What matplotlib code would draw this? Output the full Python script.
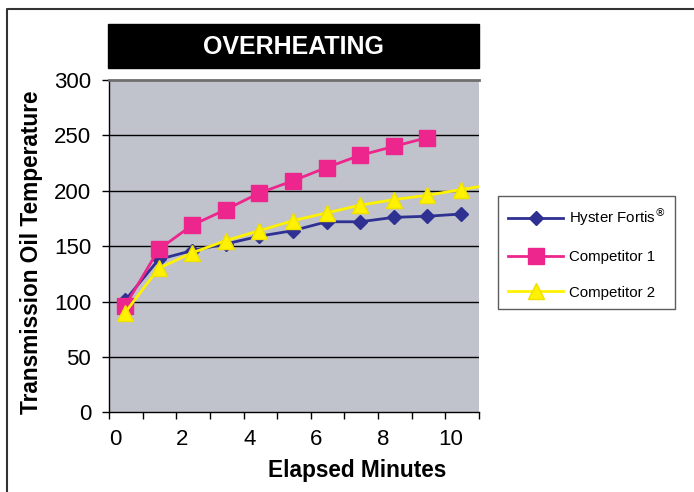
import matplotlib.pyplot as plt
from matplotlib.patches import Rectangle
from matplotlib.lines import Line2D

# data (one reading per elapsed minute)
minutes = [0, 1, 2, 3, 4, 5, 6, 7, 8, 9, 10, 11]
hyster = [101, 138, 146, 152, 159, 164, 172, 172, 176, 177, 179]
comp1 = [96, 147, 169, 183, 198, 209, 221, 232, 240, 248]
comp2 = [90, 130, 144, 155, 164, 173, 180, 187, 192, 196, 201, 206]

x_ticks = [0, 2, 4, 6, 8, 10]
y_ticks = [0, 50, 100, 150, 200, 250, 300]

navy = '#2e3192'
pink = '#ec268c'
yellow = '#fff200'

plt.rcParams['font.family'] = ['Liberation Sans', 'DejaVu Sans']

fig = plt.figure(figsize=(6.94, 4.92), dpi=100)
ax = fig.add_axes([109.3 / 694, 1 - 412.3 / 492, 369.4 / 694, 332.3 / 492])
ax.set_facecolor('#c0c3cb')

# points sit in the middle of each minute slot
off = 0.3
ax.plot([m + off for m in minutes[:len(hyster)]], hyster, color=navy, lw=2,
        marker='D', ms=7, mec=navy, label='Hyster Fortis$^{®}$', zorder=3)
ax.plot([m + off for m in minutes[:len(comp1)]], comp1, color=pink, lw=2,
        marker='s', ms=12, mec=pink, label='Competitor 1', zorder=4)
ax.plot([m + off for m in minutes[:len(comp2)]], comp2, color=yellow, lw=2,
        marker='^', ms=11, mec='#f0e000', label='Competitor 2', zorder=5)

ax.set_xlim(-0.17, 10.82)
ax.set_ylim(0, 300)

ax.set_yticks(y_ticks)
for v in y_ticks[1:-1]:
    ax.axhline(v, color='black', lw=1, zorder=1)

ax.set_xticks(x_ticks)
ax.set_xticks([-0.17 + m for m in minutes], minor=True)
ax.tick_params(axis='x', which='major', length=0, pad=12, labelsize=16)
ax.tick_params(axis='x', which='minor', length=5, width=1, direction='out')
ax.tick_params(axis='y', length=5, width=1, pad=8, labelsize=16)

ax.spines['right'].set_visible(False)
ax.spines['top'].set_color('#6e6e6e')
ax.spines['top'].set_linewidth(2)
ax.spines['left'].set_linewidth(1)
ax.spines['bottom'].set_linewidth(1)

fig.text(32 / 694, 1 - 252 / 492, 'Transmission Oil Temperature', rotation=90,
         ha='center', va='center', fontsize=16.3, fontweight='bold')
fig.text(357 / 694, 1 - 471 / 492, 'Elapsed Minutes', ha='center', va='center',
         fontsize=16.3, fontweight='bold')

# black title bar
fig.add_artist(Rectangle((107.7 / 694, 1 - 67.7 / 492), 371.3 / 694, 43.7 / 492,
                         transform=fig.transFigure, color='black'))
fig.text(293.5 / 694, 1 - 47 / 492, 'OVERHEATING', ha='center', va='center',
         color='white', fontsize=18, fontweight='bold')

# outer frame, only top and left edges show
fig.add_artist(Line2D([6.7 / 694, 6.7 / 694, 1], [0, 1 - 9 / 492, 1 - 9 / 492],
                      transform=fig.transFigure, color='#333333', lw=1.5))

leg = ax.legend(loc='upper left', bbox_to_anchor=(498 / 694, 1 - 196 / 492),
                bbox_transform=fig.transFigure, borderaxespad=0, frameon=True,
                fancybox=False, edgecolor='#333333', handlelength=3.7,
                labelspacing=1.45, borderpad=0.65, handletextpad=0.35,
                prop={'size': 10.8})
leg.get_frame().set_linewidth(1)

fig.savefig('out.png', dpi=100)
